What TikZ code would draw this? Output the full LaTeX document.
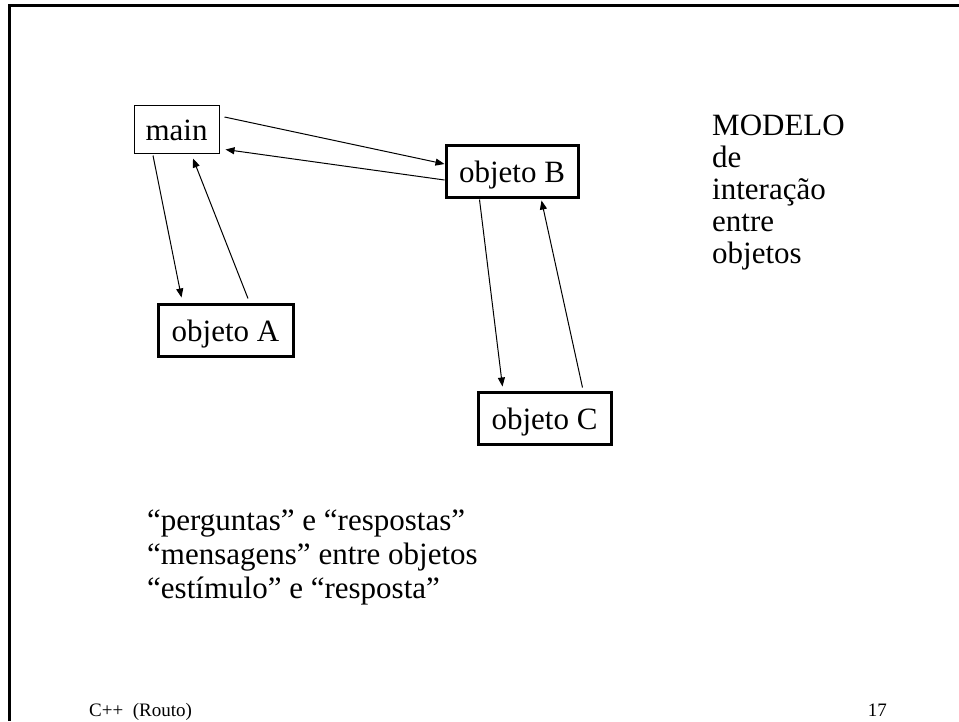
\documentclass[tikz,border=0pt]{standalone}
\usepackage{fontspec}
\setmainfont{Liberation Serif}
\usetikzlibrary{arrows.meta,calc}
\begin{document}
\begin{tikzpicture}[x=1pt,y=-1pt,
  big/.style={font=\fontsize{31}{34}\selectfont},
  objbox/.style={big,draw,line width=3pt,inner sep=0pt,minimum height=52pt,
    text height=23pt,text depth=0pt},
  mainbox/.style={big,draw,line width=1pt,inner sep=0pt,minimum height=48pt,
    minimum width=85pt,text height=23pt,text depth=0pt},
  msg/.style={line width=1pt,-{Triangle[length=9pt,width=7pt]}},
  txt/.style={big,inner sep=0pt,anchor=base west},
  foot/.style={font=\fontsize{19}{22}\selectfont,inner sep=0pt}]
\useasboundingbox (0,0) rectangle (959,721);
% slide frame (top and left edges)
\draw[line width=3pt] (9.5,721) -- (9.5,5.7) -- (959,5.7);

% objects
\node[mainbox] (main) at (176.5,129) {main};
\node[objbox,minimum width=132pt] (B) at (512,171) {objeto B};
\node[objbox,minimum width=135pt] (A) at (225.5,330) {objeto A};
\node[objbox,minimum width=133pt] (C) at (544.5,418) {objeto C};

% messages between objects
\draw[msg] ($(main.east)+(5,-12)$) -- ($(B.west)+(0,-7)$);
\draw[msg] ($(B.west)+(0,9)$) -- ($(main.south east)+(6,-4)$);
\draw[msg] ($(main.south)+(-23.5,2)$) -- ($(A.north west)+(25,-5)$);
\draw[msg] ($(A.north)+(22.5,-4)$) -- ($(main.south)+(16.5,5)$);
\draw[msg] ($(B.south west)+(35,1)$) -- ($(C.north west)+(26,-4)$);
\draw[msg] ($(C.north west)+(106,-3)$) -- ($(B.south west)+(97,2)$);

% title block
\node[txt] (t1) at (712,135) {MODELO};
\node[txt] (t2) at (712,167) {de};
\node[txt] (t3) at (712,199) {interação};
\node[txt] (t4) at (712,231) {entre};
\node[txt] (t5) at (712,263) {objetos};

% notes
\node[txt] (n1) at (147,530) {“perguntas” e “respostas”};
\node[txt] (n2) at (147,564) {“mensagens” entre objetos};
\node[txt] (n3) at (147,598) {“estímulo” e “resposta”};

% footer
\node[foot,anchor=base west] (f1) at (89,716) {C++\ \ (Routo)};
\node[foot,anchor=base east] (f2) at (887,716) {17};
\end{tikzpicture}
\end{document}
